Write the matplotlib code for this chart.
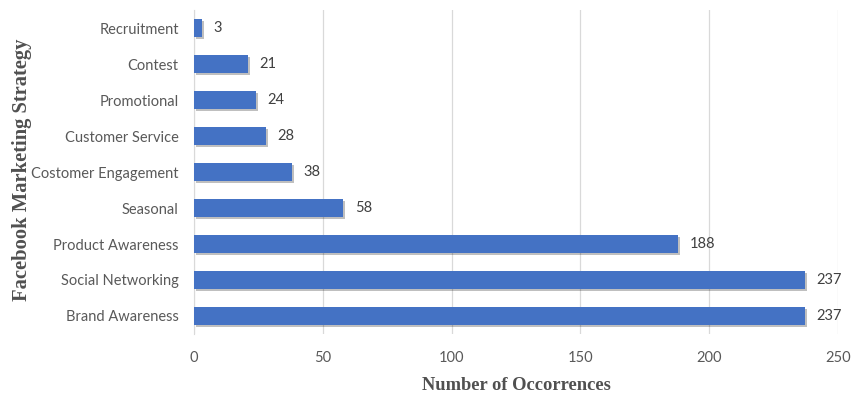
import matplotlib
matplotlib.use("Agg")
import matplotlib.pyplot as plt
import matplotlib.patheffects as pe

categories = ["Brand Awareness", "Social Networking", "Product Awareness", "Seasonal",
              "Costomer Engagement", "Customer Service", "Promotional", "Contest", "Recruitment"]
values = [237, 237, 188, 58, 38, 28, 24, 21, 3]
xticks = [0, 50, 100, 150, 200, 250]

fig = plt.figure(figsize=(8.52, 3.96), dpi=100)
ax = fig.add_axes([0.2277, 0.1566, 0.7559, 0.818])

bars = ax.barh(range(len(categories)), values, height=0.5, color="#4472C4", zorder=3)
for b in bars:
    b.set_path_effects([pe.SimplePatchShadow(offset=(1.5, -1.5), shadow_rgbFace="#000000", alpha=0.25), pe.Normal()])

for i, v in enumerate(values):
    ax.text(v + 4.5, i, str(v), va="center", ha="left", fontsize=10.5, color="#404040", family="Lato")

ax.set_xlim(0, 250)
ax.set_ylim(-0.5, len(categories) - 0.5)
ax.set_yticks(range(len(categories)))
ax.set_yticklabels(categories, fontsize=10.5, color="#595959", family="Lato")
ax.set_xticks(xticks)
ax.set_xticklabels([str(t) for t in xticks], fontsize=10.5, color="#595959", family="Lato")
ax.tick_params(axis="both", length=0)
ax.tick_params(axis="x", pad=12)
ax.tick_params(axis="y", pad=11)
ax.grid(axis="x", color="#d9d9d9", linewidth=0.9, zorder=0)
for s in ["top", "right", "bottom"]:
    ax.spines[s].set_visible(False)
ax.spines["left"].set_color("#d9d9d9")

ax.set_xlabel("Number of Occorrences", fontsize=13.3, fontweight="bold", color="#505050",
              family="Liberation Serif", labelpad=9)
fig.text(0.026, 0.57, "Facebook Marketing Strategy", rotation=90, va="center", ha="center",
         fontsize=14.8, fontweight="bold", color="#505050", family="Liberation Serif")

fig.savefig("out.png", dpi=100)
